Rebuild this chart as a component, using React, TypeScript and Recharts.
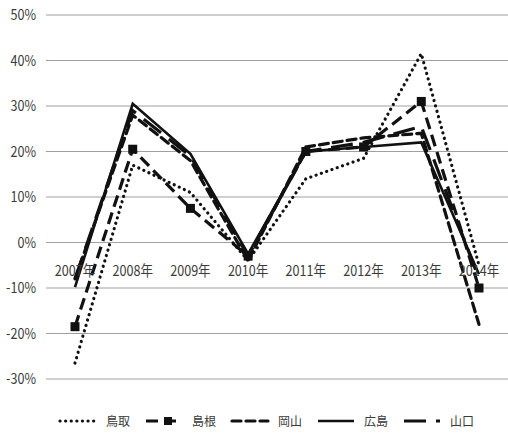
import React from 'react';
import { LineChart, Line, XAxis, YAxis, CartesianGrid } from 'recharts';

const years = ['2007年', '2008年', '2009年', '2010年', '2011年', '2012年', '2013年', '2014年'];
const tottori = [-26.5, 17, 11, -4, 14, 18.5, 41.5, -5];
const shimane = [-18.5, 20.5, 7.5, -3, 20, 21, 31, -10];
const okayama = [-8, 28, 18, -4, 21, 23, 24, -18];
const hiroshima = [-9.8, 30.5, 19.5, -2.5, 20, 21, 22, -7];
const yamaguchi = [-8, 29, 19, -3, 20, 22, 25.5, -8];
const yTicks = [-30, -20, -10, 0, 10, 20, 30, 40, 50];

const W = 508;
const H = 434;
const TOP = 15;
const PLOT_BOTTOM = 379;
const X_AXIS_H = 20;
const Y_MIN = -30;
const Y_MAX = 50;
const FONT = '"Noto Sans CJK JP", sans-serif';
const TEXT_COLOR = '#3a3a3a';

const series = [
  { key: 'tottori', name: '鳥取', dash: '0.1 5.5', width: 3.2, cap: 'round' as const, marker: false },
  { key: 'shimane', name: '島根', dash: '12 6', width: 3.2, cap: 'butt' as const, marker: true },
  { key: 'okayama', name: '岡山', dash: '9 5', width: 3.2, cap: 'round' as const, marker: false },
  { key: 'hiroshima', name: '広島', dash: undefined, width: 2.6, cap: 'butt' as const, marker: false },
  { key: 'yamaguchi', name: '山口', dash: '22 10', width: 3.2, cap: 'butt' as const, marker: false },
];

const data = years.map((y, i) => ({
  year: y,
  tottori: tottori[i],
  shimane: shimane[i],
  okayama: okayama[i],
  hiroshima: hiroshima[i],
  yamaguchi: yamaguchi[i],
}));

// x labels sit just under the 0% gridline, not at the bottom
const zeroY = TOP + (PLOT_BOTTOM - TOP) * (Y_MAX / (Y_MAX - Y_MIN));

// the original font is tall and narrow, so squeeze horizontally
const NarrowText = ({ x, y, anchor, children }: any) => (
  <g transform={`translate(${x},${y}) scale(0.84,1)`}>
    <text x={0} y={0} textAnchor={anchor} fill={TEXT_COLOR} fontSize={15} fontFamily={FONT}>
      {children}
    </text>
  </g>
);

const YearTick = (props: any) => {
  const { x, payload } = props;
  return (
    <NarrowText x={x} y={zeroY + 33} anchor="middle">
      {payload.value}
    </NarrowText>
  );
};

const PercentTick = (props: any) => {
  const { x, y, payload } = props;
  return (
    <NarrowText x={x} y={y + 5} anchor="end">
      {`${payload.value}%`}
    </NarrowText>
  );
};

const SquareDot = (props: any) => {
  const { cx, cy } = props;
  if (cx == null || cy == null) return null;
  return <rect x={cx - 4.5} y={cy - 4.5} width={9} height={9} fill="#111" />;
};

const LegendRow = () => (
  <div
    style={{
      position: 'absolute',
      left: 24,
      top: 412,
      width: W - 24,
      display: 'flex',
      justifyContent: 'center',
      gap: 14,
      fontFamily: FONT,
      fontSize: 12,
      color: TEXT_COLOR,
    }}
  >
    {series.map(s => (
      <div key={s.key} style={{ display: 'flex', alignItems: 'center' }}>
        <svg width={40} height={14}>
          <line
            x1={2}
            y1={7}
            x2={38}
            y2={7}
            stroke="#111"
            strokeWidth={s.width}
            strokeDasharray={s.dash}
            strokeLinecap={s.cap}
          />
          {s.marker && <rect x={20} y={3} width={8} height={8} fill="#111" />}
        </svg>
        <span style={{ marginLeft: 8 }}>{s.name}</span>
      </div>
    ))}
  </div>
);

const App: React.FC = () => {
  return (
    <div style={{ position: 'absolute', left: 0, top: 0, width: W, height: H, background: '#fff' }}>
      <LineChart
        width={W}
        height={H}
        data={data}
        margin={{ top: TOP, right: 0, left: 0, bottom: H - PLOT_BOTTOM - X_AXIS_H }}
      >
        <CartesianGrid vertical={false} stroke="#a0a0a0" strokeWidth={1.2} />
        <XAxis
          dataKey="year"
          axisLine={false}
          tickLine={false}
          height={X_AXIS_H}
          padding={{ left: 29, right: 29 }}
          tick={<YearTick />}
          interval={0}
        />
        <YAxis
          domain={[Y_MIN, Y_MAX]}
          ticks={yTicks}
          width={46}
          axisLine={false}
          tickLine={false}
          tickMargin={4}
          tick={<PercentTick />}
        />
        {series.map(s => (
          <Line
            key={s.key}
            type="linear"
            dataKey={s.key}
            name={s.name}
            stroke="#111"
            strokeWidth={s.width}
            strokeDasharray={s.dash}
            strokeLinecap={s.cap}
            dot={s.marker ? <SquareDot /> : false}
            activeDot={false}
            isAnimationActive={false}
          />
        ))}
      </LineChart>
      <LegendRow />
    </div>
  );
};

export default App;
